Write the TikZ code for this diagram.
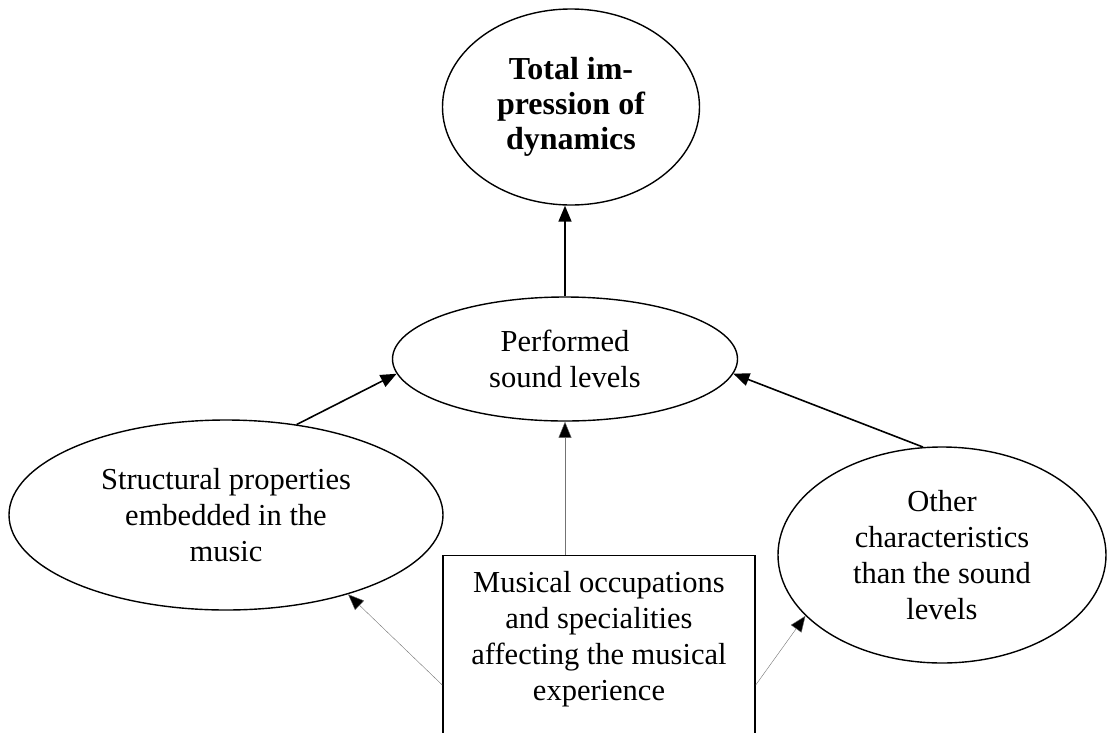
\documentclass[tikz,border=0pt]{standalone}
\usepackage{fontspec}
\setmainfont{Liberation Serif}
\usetikzlibrary{arrows.meta,shapes.geometric}
\begin{document}
\begin{tikzpicture}[x=1pt,y=-1pt,
  oval/.style={draw, ellipse, line width=1.4pt, inner sep=0pt, align=center,
    font=\fontsize{30.5}{36}\selectfont},
  boxshape/.style={draw, rectangle, line width=1.4pt, inner sep=0pt},
  txt/.style={align=center, font=\fontsize{30.5}{36}\selectfont},
  main/.style={line width=1.6pt, -{Triangle[length=16pt,width=13pt]}},
  weak/.style={line width=0.4pt, draw=black!55, -{Triangle[length=16pt,width=13pt,fill=black]}}
]
\clip (0,0) rectangle (1112,732);
\node[oval, minimum width=257pt, minimum height=196pt, font=\fontsize{32}{35}\selectfont\bfseries] (top) at (571,107) {Total im-\\pression of\\dynamics};
\node[oval, minimum width=345pt, minimum height=124pt] (perf) at (565,359) {Performed\\sound levels};
\node[oval, minimum width=434pt, minimum height=190pt] (struct) at (226,515) {Structural properties\\embedded in the\\music};
\node[oval, minimum width=328pt, minimum height=216pt] (other) at (942,555) {Other\\characteristics\\than the sound\\levels};
\node[boxshape, minimum width=312pt, minimum height=250pt, anchor=north] (box) at (599,555) {};
\node[txt] (boxtext) at (599,639) {Musical occupations\\and specialities\\affecting the musical\\experience};
\coordinate (bt) at (565,555);
\draw[main] (perf.north) -- (perf.north |- top.south);
\draw[main] (struct.52) -- (perf.185);
\draw[main] (other.100) -- (perf.-5);
\draw[weak] (bt) -- (perf.south);
\draw[weak] (box.west |- 0,685) -- (struct.-33);
\draw[weak] (box.east |- 0,685) -- (other.204);
\end{tikzpicture}
\end{document}
